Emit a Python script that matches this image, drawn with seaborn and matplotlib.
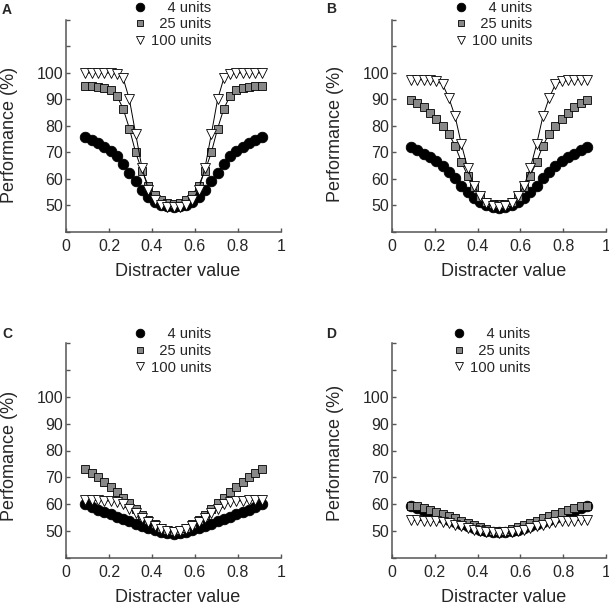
import matplotlib
matplotlib.use('Agg')
import matplotlib.pyplot as plt
from matplotlib.lines import Line2D
import seaborn as sns

sns.set_style('ticks')
plt.rcParams['font.family'] = ['Liberation Sans', 'DejaVu Sans']

# ---------------- data ----------------
distracter = [0.09, 0.119, 0.149, 0.178, 0.207, 0.236, 0.266, 0.295, 0.324, 0.354,
              0.383, 0.412, 0.441, 0.471, 0.5, 0.529, 0.559, 0.588, 0.617, 0.646,
              0.676, 0.705, 0.734, 0.764, 0.793, 0.822, 0.851, 0.881, 0.91]

a_4 = [76, 74.8, 73.5, 72.2, 70.6, 68.5, 65.5, 62.3, 59.2, 56, 53.3, 51.5, 50.3, 49.7, 49.5,
       49.7, 50.3, 51.5, 53.3, 56, 59.2, 62.3, 65.5, 68.5, 70.6, 72.2, 73.5, 74.8, 76]
a_25 = [95, 95, 94.7, 94.4, 93.5, 91.5, 86.5, 79, 70, 63, 57.5, 54, 52, 51, 50.5,
        51, 52, 54, 57.5, 63, 70, 79, 86.5, 91.5, 93.5, 94.4, 94.7, 95, 95]
a_100 = [100, 100, 100, 100, 100, 99.5, 98, 90, 77, 64, 56, 52, 50.2, 49.6, 49.5,
         49.6, 50.2, 52, 56, 64, 77, 90, 98, 99.5, 100, 100, 100, 100, 100]

b_4 = [72, 70.8, 69.5, 68.2, 66.8, 65, 62.8, 60.2, 57.5, 55, 52.8, 51.2, 50.1, 49.5, 49.2,
       49.5, 50.1, 51.2, 52.8, 55, 57.5, 60.2, 62.8, 65, 66.8, 68.2, 69.5, 70.8, 72]
b_25 = [89.7, 88.5, 87, 85, 82.5, 80, 77, 72.5, 66.5, 61.2, 56.8, 53.2, 51.5, 50.6, 50.4,
        50.6, 51.5, 53.2, 56.8, 61.2, 66.5, 72.5, 77, 80, 82.5, 85, 87, 88.5, 89.7]
b_100 = [97.5, 97.5, 97.4, 97.2, 96.8, 95.8, 90.5, 83.6, 73.2, 64, 57.5, 53.5, 51.1, 49.7, 49.5,
         49.7, 51.1, 53.5, 57.5, 64, 73.2, 83.6, 90.5, 95.8, 96.8, 97.2, 97.4, 97.5, 97.5]

c_4 = [60, 59, 58, 57.2, 56.3, 55.4, 54.5, 53.6, 52.7, 51.8, 51, 50.3, 49.7, 49.3, 49.1,
       49.3, 49.7, 50.3, 51, 51.8, 52.7, 53.6, 54.5, 55.4, 56.3, 57.2, 58, 59, 60]
c_25 = [73, 71.6, 70, 68.4, 66.6, 64.6, 62.4, 60.3, 58.2, 56.1, 54.2, 52.5, 51.2, 50.4, 50.1,
        50.4, 51.2, 52.5, 54.2, 56.1, 58.2, 60.3, 62.4, 64.6, 66.6, 68.4, 70, 71.6, 73]
c_100 = [61.5, 61.5, 61.4, 61.3, 61.2, 61, 60, 58.3, 56.6, 55, 53.3, 51.8, 50.7, 50, 49.6,
         50, 50.7, 51.8, 53.3, 55, 56.6, 58.3, 60, 61, 61.2, 61.3, 61.4, 61.5, 61.5]

d_4 = [59.3, 58.5, 57.6, 56.7, 55.8, 55, 54.2, 53.4, 52.6, 51.9, 51.2, 50.6, 50.1, 49.8, 49.6,
       49.8, 50.1, 50.6, 51.2, 51.9, 52.6, 53.4, 54.2, 55, 55.8, 56.7, 57.6, 58.5, 59.3]
d_25 = [59.5, 59.2, 58.7, 58, 57.3, 56.5, 55.6, 54.7, 53.8, 53, 52.2, 51.4, 50.7, 50.2, 50,
        50.2, 50.7, 51.4, 52.2, 53, 53.8, 54.7, 55.6, 56.5, 57.3, 58, 58.7, 59.2, 59.5]
d_100 = [54, 54, 53.9, 53.8, 53.6, 53.3, 52.9, 52.4, 51.8, 51.2, 50.6, 50.1, 49.7, 49.5, 49.4,
         49.5, 49.7, 50.1, 50.6, 51.2, 51.8, 52.4, 52.9, 53.3, 53.6, 53.8, 53.9, 54, 54]

unit_labels = ['    4 units', '  25 units', '100 units']
panel_letters = ['A', 'B', 'C', 'D']
y_labels = ['Performance (%)', 'Performance (%)', 'Perfomance (%)', 'Performance (%)']
x_label = 'Distracter value'
x_ticks = [0, 0.2, 0.4, 0.6, 0.8, 1]
x_tick_labels = ['0', '0.2', '0.4', '0.6', '0.8', '1']
y_ticks = [40, 50, 60, 70, 80, 90, 100, 110, 120]
y_tick_labels = ['', '50', '60', '70', '80', '90', '100', '', '']

series = [[a_4, a_25, a_100], [b_4, b_25, b_100], [c_4, c_25, c_100], [d_4, d_25, d_100]]

# ---------------- layout (pixels in a 609 x 611 canvas) ----------------
W, H = 609, 611
boxes = [(66, 20, 281, 232), (392, 20, 606, 232), (66, 343, 281, 558), (392, 343, 606, 558)]
letter_pos = [(7, 10.5), (331, 9), (7, 334.5), (331, 334.5)]
legend_pos = [(140, 7.5), (461, 7.5), (140, 334), (459, 334)]   # marker centre of first row
ylabel_y = [0.458, 0.462, 0.474, 0.49]

spine_col = '#555555'
styles = [dict(marker='o', markersize=7.6, markerfacecolor='black'),
          dict(marker='s', markersize=6, markerfacecolor='#888888'),
          dict(marker='v', markersize=6.6, markerfacecolor='white')]
leg_sizes = [6.2, 4.6, 5.6]
leg_fs = 10.6

fig = plt.figure(figsize=(W / 100, H / 100), dpi=100)

for i in range(4):
    l, t, r, b = boxes[i]
    ax = fig.add_axes([l / W, 1 - b / H, (r - l) / W, (b - t) / H])

    for vals, st in zip(series[i], styles):
        sns.lineplot(x=distracter, y=vals, ax=ax, color='black', linewidth=0.7,
                     markeredgecolor='black', markeredgewidth=0.6,
                     sort=False, estimator=None, legend=False, **st)

    ax.set_xlim(0, 1)
    ax.set_ylim(40, 120)
    ax.set_xticks(x_ticks)
    ax.set_xticklabels(x_tick_labels)
    ax.set_yticks(y_ticks)
    ax.set_yticklabels(y_tick_labels)
    ax.tick_params(direction='in', length=3, width=1, color=spine_col, labelsize=11.5)
    ax.tick_params(axis='x', pad=5.2)
    ax.tick_params(axis='y', pad=2.2)
    sns.despine(ax=ax)
    for s in ['left', 'bottom']:
        ax.spines[s].set_color(spine_col)
        ax.spines[s].set_linewidth(1.1)

    ax.set_xlabel(x_label, fontsize=13)
    ax.set_ylabel(y_labels[i], fontsize=13)
    ax.xaxis.set_label_coords(0.52, -0.145)
    ax.yaxis.set_label_coords(-0.225, ylabel_y[i])

    handles = [Line2D([], [], linestyle='none', marker=st['marker'], markersize=ms,
                      markerfacecolor=st['markerfacecolor'], markeredgecolor='black',
                      markeredgewidth=0.6)
               for st, ms in zip(styles, leg_sizes)]
    hx, hy = legend_pos[i]
    fs_px = leg_fs * 100 / 72
    fig.legend(handles, unit_labels, loc='upper left',
               bbox_to_anchor=((hx - 0.4 * fs_px) / W, 1 - (hy - 6.8) / H),
               bbox_transform=fig.transFigure, frameon=False, fontsize=leg_fs,
               handlelength=0.8, handletextpad=0.35, labelspacing=0.18,
               borderpad=0, borderaxespad=0, numpoints=1)

    lx, ly = letter_pos[i]
    fig.text(lx / W, 1 - ly / H, panel_letters[i], fontsize=10, fontweight='bold',
             ha='center', va='center')

fig.savefig('out.png', dpi=100)
